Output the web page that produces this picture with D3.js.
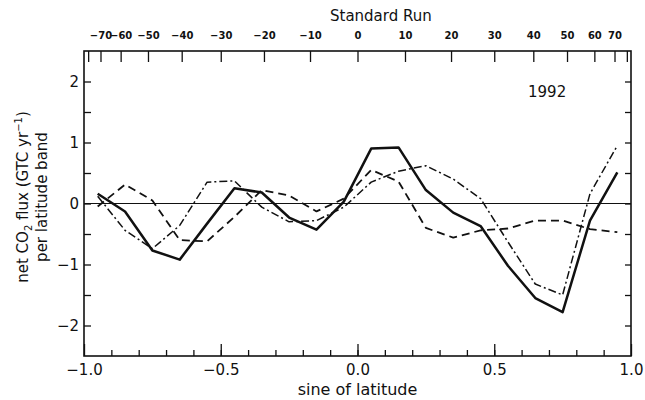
<!DOCTYPE html>
<html>
<head>
<meta charset="utf-8">
<script src="https://cdn.jsdelivr.net/npm/d3@7"></script>
<style>
  body { margin: 0; background: #fff; }
  svg text { font-family: "DejaVu Sans", "Liberation Sans", sans-serif; fill: #111; }
</style>
</head>
<body>
<div id="chart"></div>
<script>
// band centres, sine of latitude
var sinLat = [-0.95, -0.85, -0.75, -0.65, -0.55, -0.45, -0.35, -0.25, -0.15, -0.05,
              0.05, 0.15, 0.25, 0.35, 0.45, 0.55, 0.65, 0.75, 0.85, 0.95];

// net CO2 flux per band (GtC/yr)
var solidRun   = [0.16, -0.13, -0.77, -0.92, -0.33, 0.25, 0.18, -0.23, -0.43, 0.03,
                  0.90, 0.92, 0.22, -0.15, -0.37, -1.02, -1.55, -1.78, -0.28, 0.51];
var dashedRun  = [-0.05, 0.31, 0.05, -0.60, -0.62, -0.22, 0.22, 0.13, -0.13, 0.08,
                  0.55, 0.36, -0.40, -0.56, -0.44, -0.41, -0.28, -0.28, -0.42, -0.47];
var dashDotRun = [0.12, -0.44, -0.74, -0.36, 0.35, 0.37, -0.06, -0.30, -0.28, -0.06,
                  0.35, 0.53, 0.62, 0.40, 0.08, -0.63, -1.32, -1.50, 0.16, 0.95];

// top axis: latitude in degrees
var latTicks = [-80, -70, -60, -50, -40, -30, -20, -10, 0, 10, 20, 30, 40, 50, 60, 70, 80];
var yMajor = [-2, -1, 0, 1, 2];
var xMajor = [-1, -0.5, 0, 0.5, 1];

var width = 645, height = 400;
var plot = { left: 84, right: 631, top: 51, bottom: 356 };

var svg = d3.select("#chart").append("svg")
  .attr("width", width)
  .attr("height", height);

var x = d3.scaleLinear().domain([-1, 1]).range([plot.left, plot.right]);
var y = d3.scaleLinear().domain([-2.5, 2.5]).range([plot.bottom, plot.top]);

function fmtMinus(s) { return s.replace("-", "\u2212"); }

/** axes **/

// bottom: minor ticks every 0.1, major every 0.5
svg.append("g")
  .attr("transform", "translate(0," + plot.bottom + ")")
  .call(d3.axisBottom(x).tickValues(d3.range(-9, 10).map(function(d) { return d / 10; }))
    .tickSize(-6).tickFormat(""));
svg.append("g")
  .attr("transform", "translate(0," + plot.bottom + ")")
  .call(d3.axisBottom(x).tickValues(xMajor).tickSize(-12).tickPadding(5)
    .tickFormat(function(d) { return fmtMinus(d3.format(".1f")(d)); }))
  .selectAll("text").attr("font-size", 15).attr("dy", "0.9em");

// left: minor every 0.5, labels at integers
svg.append("g")
  .attr("transform", "translate(" + plot.left + ",0)")
  .call(d3.axisLeft(y).tickValues(d3.range(-2, 2.5, 0.5)).tickSize(-7).tickPadding(5)
    .tickFormat(function(d) { return yMajor.indexOf(d) >= 0 ? fmtMinus(String(d)) : ""; }))
  .selectAll("text").attr("font-size", 15);

// right: ticks only
svg.append("g")
  .attr("transform", "translate(" + plot.right + ",0)")
  .call(d3.axisRight(y).tickValues(d3.range(-2, 2.5, 0.5)).tickSize(-6).tickFormat(""));

// top: latitude ticks placed at sin(lat)
svg.append("g")
  .attr("transform", "translate(0," + plot.top + ")")
  .call(d3.axisTop(x)
    .tickValues(latTicks.map(function(d) { return Math.sin(d * Math.PI / 180); }))
    .tickSize(-11).tickPadding(12)
    .tickFormat(function(d, i) {
      var lat = latTicks[i];
      return Math.abs(lat) > 70 ? "" : fmtMinus(String(lat));
    }))
  .selectAll("text").attr("font-size", 10).attr("font-weight", "bold");

// plain black ticks, frame drawn separately
svg.selectAll(".domain").remove();
svg.selectAll(".tick line").attr("stroke", "#111").attr("stroke-width", 1.3);

svg.append("rect")
  .attr("x", plot.left).attr("y", plot.top)
  .attr("width", plot.right - plot.left).attr("height", plot.bottom - plot.top)
  .attr("fill", "none").attr("stroke", "#111").attr("stroke-width", 1.6);

// zero line
svg.append("line")
  .attr("x1", x(-1)).attr("x2", x(1))
  .attr("y1", y(0)).attr("y2", y(0))
  .attr("stroke", "#111").attr("stroke-width", 1.2);

/** series **/

var line = d3.line()
  .x(function(d) { return x(d[0]); })
  .y(function(d) { return y(d[1]); });

var series = [
  { values: dashDotRun, width: 1.5, dash: "8,3,2,3" },
  { values: dashedRun,  width: 1.8, dash: "8,5" },
  { values: solidRun,   width: 2.5, dash: null }
];

series.forEach(function(s) {
  svg.append("path")
    .datum(d3.zip(sinLat, s.values))
    .attr("d", line)
    .attr("fill", "none")
    .attr("stroke", "#111")
    .attr("stroke-width", s.width)
    .attr("stroke-linejoin", "round")
    .attr("stroke-dasharray", s.dash);
});

/** labels **/

svg.append("text")
  .attr("x", 330).attr("y", 21)
  .attr("font-size", 15)
  .text("Standard Run");

svg.append("text")
  .attr("x", 528).attr("y", 97)
  .attr("font-size", 15)
  .text("1992");

svg.append("text")
  .attr("x", x(0)).attr("y", 395)
  .attr("text-anchor", "middle")
  .attr("font-size", 16)
  .text("sine of latitude");

var yTitle = svg.append("text")
  .attr("transform", "translate(28,197) rotate(-90)")
  .attr("text-anchor", "middle")
  .attr("font-size", 15);
yTitle.append("tspan").text("net CO");
yTitle.append("tspan").attr("font-size", 10).attr("dy", 4).text("2");
yTitle.append("tspan").attr("dy", -4).text(" flux (GTC yr");
yTitle.append("tspan").attr("font-size", 10).attr("dy", -6).text("\u22121");
yTitle.append("tspan").attr("dy", 6).text(")");

svg.append("text")
  .attr("transform", "translate(47,197) rotate(-90)")
  .attr("text-anchor", "middle")
  .attr("font-size", 15)
  .text("per latitude band");
</script>
</body>
</html>
